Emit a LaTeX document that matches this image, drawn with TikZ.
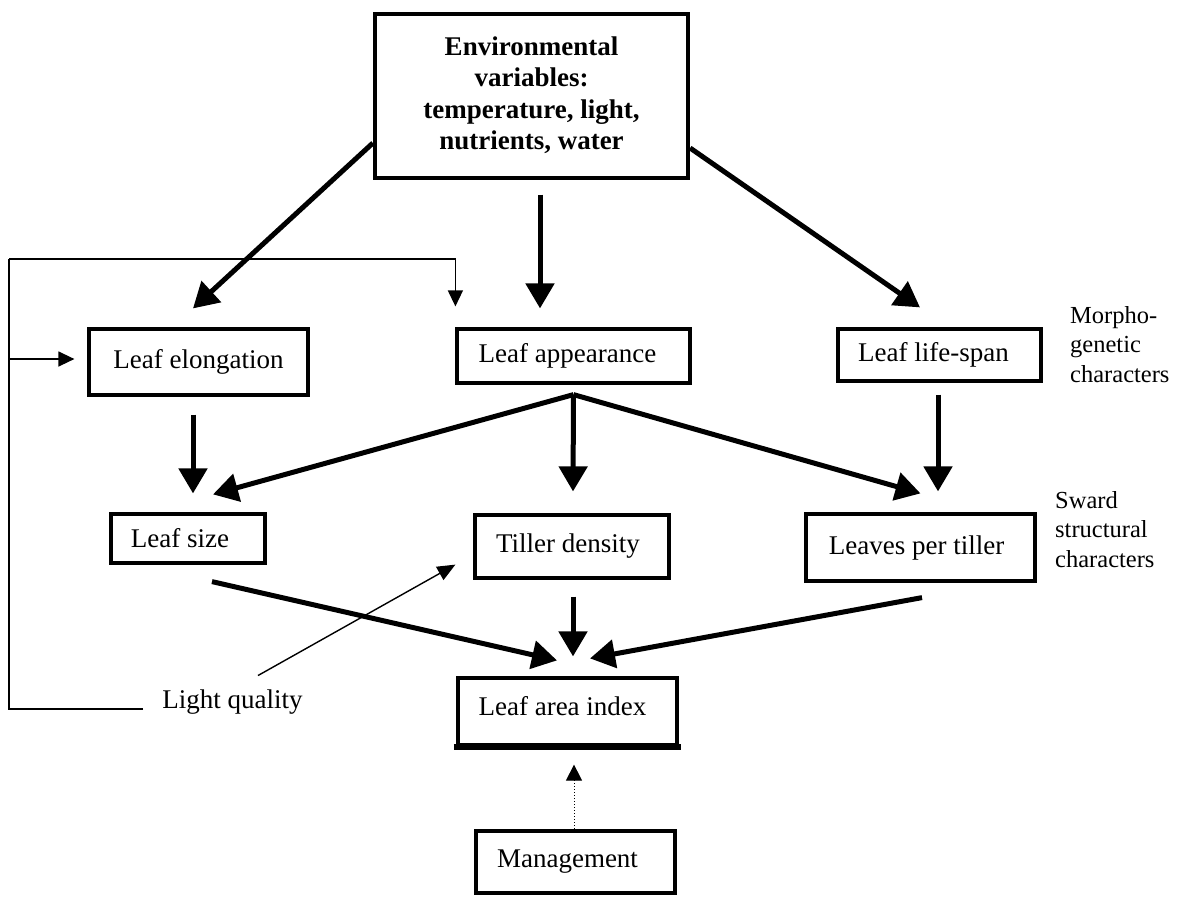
\documentclass[tikz,border=0pt]{standalone}
\usepackage{fontspec}
\setmainfont{Liberation Serif}
\usetikzlibrary{arrows.meta}
\begin{document}
\begin{tikzpicture}[x=1pt,y=-1pt,
  box/.style={draw, line width=4.2pt, inner sep=0pt, font=\fontsize{27}{31.5}\selectfont, align=center},
  bigarrow/.style={line width=5pt, -{Triangle[length=25pt,width=28pt]}},
  thinarrow/.style={line width=1.3pt, -{Triangle[length=16pt,width=15pt]}},
  sidelbl/.style={font=\fontsize{24.5}{29.5}\selectfont, align=left, inner sep=0pt, anchor=north west}
]
\useasboundingbox (0,0) rectangle (1188,898);

% boxes
\node[box, minimum width=313pt, minimum height=164pt] (env) at (531.5,96)
  {\raisebox{8pt}{\bfseries\begin{tabular}{@{}c@{}}Environmental\\variables:\\temperature, light,\\nutrients, water\end{tabular}}};
\node[box, minimum width=219pt, minimum height=66pt] (elong) at (198.5,362) {Leaf elongation};
\node[box, minimum width=233pt, minimum height=54pt] (app) at (573.5,356) {Leaf appearance\hspace{12pt}};
\node[box, minimum width=203pt, minimum height=52pt] (life) at (939.5,355) {Leaf life-span\hspace{12pt}};
\node[box, minimum width=154pt, minimum height=49pt] (size) at (188,538.5) {Leaf size\hspace{16pt}};
\node[box, minimum width=194pt, minimum height=63pt] (tiller) at (572,546.5) {Tiller density\hspace{8pt}};
\node[box, minimum width=229pt, minimum height=67pt] (leaves) at (920.5,547.5) {Leaves per tiller\hspace{8pt}};
\node[box, minimum width=219pt, minimum height=67pt] (lai) at (567.5,711.5) {\raisebox{12pt}{Leaf area index}\hspace{10pt}};
\draw[line width=6pt] ([xshift=-2pt]lai.south west) -- ([xshift=2pt]lai.south east);
\node[box, minimum width=199pt, minimum height=62pt] (mgmt) at (575.5,862) {\raisebox{4pt}{Management}\hspace{16pt}};

% side labels
\node[sidelbl] (morpho) at (1070,306) {Morpho-\\genetic\\characters};
\node[sidelbl] (sward) at (1055,491) {Sward\\structural\\characters};
\node[font=\fontsize{27}{31.5}\selectfont, inner sep=0pt] (light) at (232.5,702) {Light quality};

% main arrows
\draw[bigarrow] ([yshift=-47pt]env.west) -- ([xshift=-5.5pt,yshift=18.5pt]elong.north);
\draw[bigarrow] ([xshift=8.5pt,yshift=-14.5pt]env.south) -- ([xshift=-33.5pt,yshift=18.5pt]app.north);
\draw[bigarrow] ([yshift=-52pt]env.east) -- ([xshift=-19.5pt,yshift=19.5pt]life.north);

\draw[bigarrow] ([xshift=-5.5pt,yshift=-17.5pt]elong.south) -- ([xshift=5pt,yshift=18.5pt]size.north);
\draw[bigarrow] ([yshift=-9.5pt]app.south) -- ([xshift=25pt,yshift=17.5pt]size.north);
\draw[bigarrow] ([yshift=-9.5pt]app.south) -- ([xshift=1pt,yshift=21.5pt]tiller.north);
\draw[bigarrow] ([yshift=-9.5pt]app.south) -- ([yshift=18.5pt]leaves.north);
\draw[bigarrow] ([xshift=-1.5pt,yshift=-11.5pt]life.south) -- ([xshift=17.5pt,yshift=20.5pt]leaves.north);

\draw[bigarrow] ([xshift=24pt,yshift=-16.5pt]size.south) -- ([xshift=-10.5pt,yshift=15.5pt]lai.north);
\draw[bigarrow] ([xshift=1pt,yshift=-16.5pt]tiller.south) -- ([xshift=5.5pt,yshift=19.5pt]lai.north);
\draw[bigarrow] ([xshift=1.5pt,yshift=-14.5pt]leaves.south) -- ([xshift=22.5pt,yshift=17.5pt]lai.north);

% management dotted arrow
\draw[line width=1pt, dotted, -{Triangle[length=16pt,width=16pt]}] ([xshift=-1.5pt]mgmt.north) -- ([xshift=6.5pt,yshift=-17.5pt]lai.south);

% light quality arrow
\draw[line width=1.4pt, -{Triangle[length=18pt,width=15pt]}] ([xshift=25.5pt,yshift=14pt]light.north) -- ([xshift=-17.5pt,yshift=15.5pt]tiller.south west);

% feedback lines
\coordinate (fbtop) at (9,259);
\coordinate (fbmid) at (9,359);
\draw[line width=1.3pt] ([xshift=-19pt,yshift=-7pt]light.west) -| (fbtop);
\draw[thinarrow] (fbtop) -| ([xshift=0.5pt,yshift=20.5pt]app.north west);
\draw[thinarrow] (fbmid) -- ([xshift=-12.5pt,yshift=3pt]elong.west);
\end{tikzpicture}
\end{document}
